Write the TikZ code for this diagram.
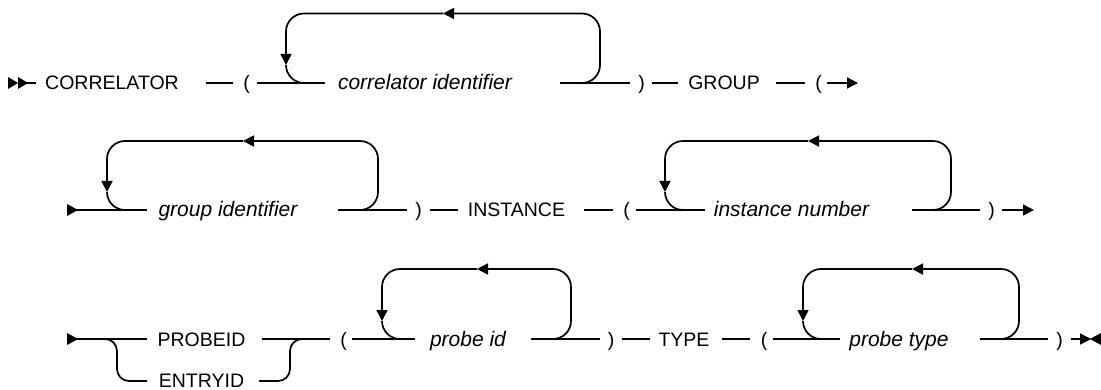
\documentclass[tikz,border=0pt]{standalone}
\usepackage{fontspec}
\setmainfont{Liberation Sans}
\usetikzlibrary{arrows.meta}
% loop: #1 left x, #2 right x, #3 line y, #4 top y, #5 top arrow tip x
\newcommand{\rrloop}[5]{%
  \draw[loopr,tipr] (#2-18,#3) -- (#2,#3) -- (#2,#4) -- (#5,#4);
  \draw[loopr,tipr] (#5,#4) -- (#1,#4) -- (#1,#3-18);
  \draw[loopr] (#1,#3-18) -- (#1,#3) -- (#1+18,#3);
}
\begin{document}
\begin{tikzpicture}[x=1pt,y=-1pt,
  rail/.style={line width=1.7pt},
  loopr/.style={rail, rounded corners=18pt},
  tipr/.style={-{Triangle[length=11pt,width=11pt]}},
  kw/.style={inner sep=0pt, anchor=base, font=\fontsize{19.5}{19.5}\selectfont},
  var/.style={inner sep=0pt, anchor=base, font=\fontsize{21}{21}\selectfont\itshape}]
\useasboundingbox (0,0) rectangle (1101,390);

% ---------- row 1 ----------
\fill (8,77) -- (18,83) -- (8,89) -- cycle;
\fill (18,77) -- (28,83) -- (18,89) -- cycle;
\coordinate (s1a) at (26,83); \coordinate (s1b) at (36,83);
\draw[rail] (s1a) -- (s1b);
\node[kw] (corr) at (112,90) {CORRELATOR};
\coordinate (a1) at (206,83); \coordinate (a2) at (233,83);
\draw[rail] (a1) -- (a2);
\node[kw] (p1) at (246.5,90) {(};
\coordinate (a3) at (257,83); \coordinate (a4) at (325,83);
\draw[rail] (a3) -- (a4);
\node[var] (cid) at (425,90) {correlator identifier};
\coordinate (a5) at (560,83); \coordinate (a6) at (630,83);
\draw[rail] (a5) -- (a6);
\rrloop{286}{600}{83}{13.5}{443}
\node[kw] (p2) at (641.5,90) {)};
\coordinate (a7) at (652,83); \coordinate (a8) at (678,83);
\draw[rail] (a7) -- (a8);
\node[kw] (grp) at (724,90) {GROUP};
\coordinate (a9) at (776,83); \coordinate (a10) at (805,83);
\draw[rail] (a9) -- (a10);
\node[kw] (p3) at (818.5,90) {(};
\coordinate (a11) at (827,83); \coordinate (a12) at (858,83);
\draw[rail,tipr] (a11) -- (a12);

% ---------- row 2 ----------
\fill (67,204) -- (78,210) -- (67,216) -- cycle;
\coordinate (b1) at (76,210); \coordinate (b2) at (147,210);
\draw[rail] (b1) -- (b2);
\node[var] (gid) at (228,217) {group identifier};
\coordinate (b3) at (338,210); \coordinate (b4) at (407,210);
\draw[rail] (b3) -- (b4);
\rrloop{107}{378}{210}{141}{243}
\node[kw] (p4) at (418.5,217) {)};
\coordinate (b5) at (430,210); \coordinate (b6) at (458,210);
\draw[rail] (b5) -- (b6);
\node[kw] (inst) at (516.5,217) {INSTANCE};
\coordinate (b7) at (584,210); \coordinate (b8) at (613,210);
\draw[rail] (b7) -- (b8);
\node[kw] (p5) at (626.5,217) {(};
\coordinate (b9) at (636,210); \coordinate (b10) at (705,210);
\draw[rail] (b9) -- (b10);
\node[var] (inum) at (791.5,217) {instance number};
\coordinate (b11) at (912,210); \coordinate (b12) at (980,210);
\draw[rail] (b11) -- (b12);
\rrloop{665}{951}{210}{141}{808}
\node[kw] (p6) at (991.5,217) {)};
\coordinate (b13) at (1002,210); \coordinate (b14) at (1034,210);
\draw[rail,tipr] (b13) -- (b14);

% ---------- row 3 ----------
\fill (67,333) -- (78,339) -- (67,345) -- cycle;
\coordinate (c1) at (76,339); \coordinate (c2) at (147,339);
\draw[rail] (c1) -- (c2);
\coordinate (br1) at (105,339); \coordinate (br2) at (117,339);
\coordinate (br3) at (117,381); \coordinate (br4) at (147,381);
\draw[rail,rounded corners=12pt] (br1) -- (br2) -- (br3) -- (br4);
\node[kw] (pid) at (201.5,346) {PROBEID};
\node[kw] (eid) at (201.5,387.5) {ENTRYID};
\coordinate (br5) at (259,381); \coordinate (br6) at (290,381);
\coordinate (br7) at (290,339); \coordinate (br8) at (302,339);
\draw[rail,rounded corners=12pt] (br5) -- (br6) -- (br7) -- (br8);
\coordinate (c3) at (262,339); \coordinate (c4) at (330,339);
\draw[rail] (c3) -- (c4);
\node[kw] (p7) at (343.5,346) {(};
\coordinate (c5) at (352,339); \coordinate (c6) at (415,339);
\draw[rail] (c5) -- (c6);
\node[var] (prid) at (468,346) {probe id};
\coordinate (c7) at (531,339); \coordinate (c8) at (600,339);
\draw[rail] (c7) -- (c8);
\rrloop{382}{571}{339}{269}{477}
\node[kw] (p8) at (611,346) {)};
\coordinate (c9) at (622,339); \coordinate (c10) at (650,339);
\draw[rail] (c9) -- (c10);
\node[kw] (typ) at (684,346) {TYPE};
\coordinate (c11) at (722,339); \coordinate (c12) at (750,339);
\draw[rail] (c11) -- (c12);
\node[kw] (p9) at (764,346) {(};
\coordinate (c13) at (773,339); \coordinate (c14) at (840,339);
\draw[rail] (c13) -- (c14);
\node[var] (prty) at (899,346) {probe type};
\coordinate (c15) at (980,339); \coordinate (c16) at (1048,339);
\draw[rail] (c15) -- (c16);
\rrloop{803}{1019}{339}{269}{912}
\node[kw] (p10) at (1059.5,346) {)};
\coordinate (c17) at (1071,339); \coordinate (c18) at (1091,339);
\draw[rail,tipr] (c17) -- (c18);
\fill (1101,333) -- (1090,339) -- (1101,345) -- cycle;
\end{tikzpicture}
\end{document}
